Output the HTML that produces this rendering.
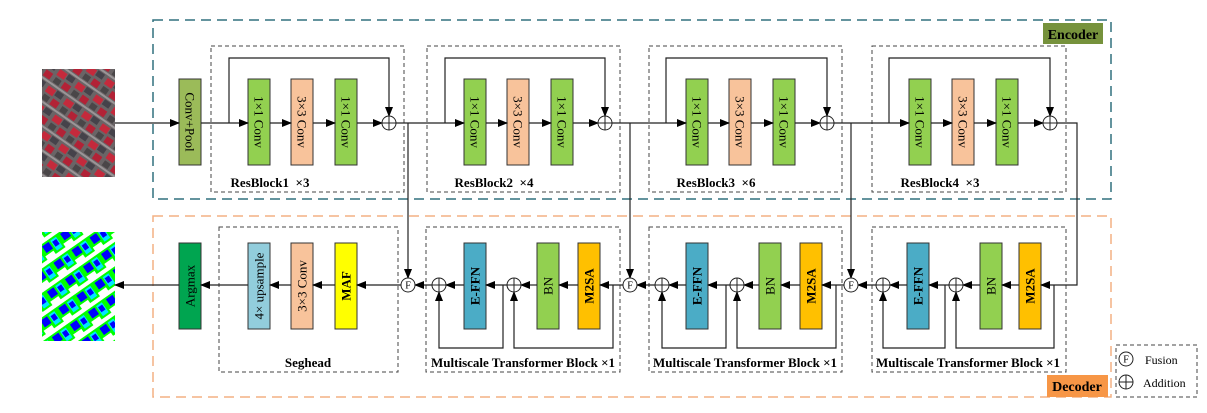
<!DOCTYPE html>
<html><head><meta charset="utf-8"><style>
html,body{margin:0;padding:0;background:#fff;}
svg{display:block;font-family:"Liberation Serif",serif;}
</style></head><body>
<svg width="1207" height="413" viewBox="0 0 1207 413" xmlns="http://www.w3.org/2000/svg">
<defs>
<marker id="a" markerWidth="10" markerHeight="8" refX="9" refY="4" orient="auto" markerUnits="userSpaceOnUse"><path d="M0,0 L10,4 L0,8 z" fill="#000"/></marker>
<pattern id="pin" width="22" height="20" patternUnits="userSpaceOnUse" patternTransform="rotate(35)"><rect width="22" height="20" fill="#6a6466"/><rect x="1" y="2" width="9" height="7" fill="#c42a3c"/><rect x="12" y="10" width="8" height="7" fill="#b22236"/><rect x="11" y="1" width="8" height="6" fill="#45424a"/><rect x="2" y="11" width="7" height="6" fill="#4a4648"/><rect x="0" y="18" width="22" height="2" fill="#9a9597"/></pattern>
<pattern id="pout" width="22" height="20" patternUnits="userSpaceOnUse" patternTransform="rotate(-35)"><rect width="22" height="20" fill="#00ff00"/><rect x="0" y="0" width="22" height="4" fill="#ffffff"/><rect x="3" y="6" width="8" height="8" fill="#0000ff"/><rect x="13" y="6" width="7" height="12" fill="#00e6ff"/><rect x="14" y="8" width="5" height="6" fill="#0000ff"/><rect x="0" y="16" width="10" height="4" fill="#ffffff"/></pattern>
</defs>

<!-- images -->
<rect x="42" y="69" width="73" height="108" fill="url(#pin)"/>
<rect x="42" y="232" width="73" height="109" fill="url(#pout)"/>

<!-- encoder / decoder outer -->
<rect x="153" y="20" width="958" height="179" fill="none" stroke="#31707f" stroke-width="1.5" stroke-dasharray="10,6"/>
<rect x="1043" y="23" width="60" height="21" fill="#76923c"/>
<text x="1073" y="39" text-anchor="middle" font-weight="bold" font-size="14">Encoder</text>
<rect x="153" y="216" width="958" height="181" fill="none" stroke="#f4b183" stroke-width="1.5" stroke-dasharray="10,6"/>
<rect x="1047" y="375" width="61" height="22" fill="#f79646"/>
<text x="1077" y="391" text-anchor="middle" font-weight="bold" font-size="14">Decoder</text>

<g fill="none" stroke="#444" stroke-width="1" stroke-dasharray="4,3">
<rect x="211" y="46" width="193" height="146"/><rect x="427" y="46" width="193" height="146"/>
<rect x="649" y="46" width="193" height="146"/><rect x="872" y="46" width="194" height="146"/>
<rect x="219" y="227" width="179" height="145"/><rect x="426" y="227" width="194" height="145"/>
<rect x="649" y="227" width="193" height="145"/><rect x="872" y="227" width="194" height="145"/>
<rect x="1116" y="345" width="81" height="52"/>
</g>

<!-- encoder blocks -->
<g stroke="#333" stroke-width="1">
<rect x="179" y="79" width="22" height="86" fill="#9bbb59"/>
<rect x="248" y="79" width="22" height="86" fill="#92d050"/><rect x="291" y="79" width="22" height="86" fill="#f8c39b"/><rect x="335" y="79" width="22" height="86" fill="#92d050"/>
<rect x="464" y="79" width="22" height="86" fill="#92d050"/><rect x="507" y="79" width="22" height="86" fill="#f8c39b"/><rect x="551" y="79" width="22" height="86" fill="#92d050"/>
<rect x="686" y="79" width="22" height="86" fill="#92d050"/><rect x="729" y="79" width="22" height="86" fill="#f8c39b"/><rect x="773" y="79" width="22" height="86" fill="#92d050"/>
<rect x="909" y="79" width="22" height="86" fill="#92d050"/><rect x="952" y="79" width="22" height="86" fill="#f8c39b"/><rect x="996" y="79" width="22" height="86" fill="#92d050"/>
<!-- decoder blocks -->
<rect x="179" y="243" width="22" height="86" fill="#00a550"/>
<rect x="248" y="243" width="22" height="86" fill="#92cddc"/><rect x="291" y="243" width="22" height="86" fill="#f8c39b"/><rect x="335" y="243" width="22" height="86" fill="#ffff00"/>
<rect x="464" y="243" width="22" height="86" fill="#4bacc6"/><rect x="537" y="243" width="22" height="86" fill="#92d050"/><rect x="578" y="243" width="22" height="86" fill="#ffc000"/>
<rect x="686" y="243" width="22" height="86" fill="#4bacc6"/><rect x="759" y="243" width="22" height="86" fill="#92d050"/><rect x="800" y="243" width="22" height="86" fill="#ffc000"/>
<rect x="907" y="243" width="22" height="86" fill="#4bacc6"/><rect x="980" y="243" width="22" height="86" fill="#92d050"/><rect x="1019" y="243" width="22" height="86" fill="#ffc000"/>
</g>

<!-- block labels -->
<g font-size="13" text-anchor="middle" dominant-baseline="central">
<text transform="translate(190,122) rotate(90)">Conv+Pool</text>
<text transform="translate(259,122) rotate(90)">1×1 Conv</text><text transform="translate(302,122) rotate(90)">3×3 Conv</text><text transform="translate(346,122) rotate(90)">1×1 Conv</text>
<text transform="translate(475,122) rotate(90)">1×1 Conv</text><text transform="translate(518,122) rotate(90)">3×3 Conv</text><text transform="translate(562,122) rotate(90)">1×1 Conv</text>
<text transform="translate(697,122) rotate(90)">1×1 Conv</text><text transform="translate(740,122) rotate(90)">3×3 Conv</text><text transform="translate(784,122) rotate(90)">1×1 Conv</text>
<text transform="translate(920,122) rotate(90)">1×1 Conv</text><text transform="translate(963,122) rotate(90)">3×3 Conv</text><text transform="translate(1007,122) rotate(90)">1×1 Conv</text>
<text transform="translate(190,286) rotate(-90)">Argmax</text>
<text transform="translate(259,286) rotate(-90)">4× upsample</text>
<text transform="translate(302,286) rotate(-90)">3×3 Conv</text>
<text transform="translate(346,286) rotate(-90)" font-weight="bold">MAF</text>
<text transform="translate(475,286) rotate(-90)" font-weight="bold">E-FFN</text><text transform="translate(548,286) rotate(-90)">BN</text><text transform="translate(589,286) rotate(-90)" font-weight="bold">M2SA</text>
<text transform="translate(697,286) rotate(-90)" font-weight="bold">E-FFN</text><text transform="translate(770,286) rotate(-90)">BN</text><text transform="translate(811,286) rotate(-90)" font-weight="bold">M2SA</text>
<text transform="translate(918,286) rotate(-90)" font-weight="bold">E-FFN</text><text transform="translate(991,286) rotate(-90)">BN</text><text transform="translate(1030,286) rotate(-90)" font-weight="bold">M2SA</text>
</g>
<g font-size="13" font-weight="bold" text-anchor="middle">
<text x="270" y="187">ResBlock1&#160;&#160;×3</text><text x="494" y="187">ResBlock2&#160;&#160;×4</text>
<text x="716" y="187">ResBlock3&#160;&#160;×6</text><text x="940" y="187">ResBlock4&#160;&#160;×3</text>
<text x="308" y="367">Seghead</text>
<text x="523" y="367">Multiscale Transformer Block ×1</text>
<text x="745" y="367">Multiscale Transformer Block ×1</text>
<text x="968" y="367">Multiscale Transformer Block ×1</text>
</g>

<!-- connectors -->
<g stroke="#222" stroke-width="1.2" fill="none">
<line x1="115" y1="123" x2="179" y2="123" marker-end="url(#a)"/>
<line x1="201" y1="123" x2="248" y2="123" marker-end="url(#a)"/>
<line x1="270" y1="123" x2="291" y2="123" marker-end="url(#a)"/><line x1="313" y1="123" x2="335" y2="123" marker-end="url(#a)"/><line x1="357" y1="123" x2="382" y2="123" marker-end="url(#a)"/>
<path d="M229,123 V58 H389 V116" marker-end="url(#a)"/>
<line x1="396" y1="123" x2="464" y2="123" marker-end="url(#a)"/>
<line x1="486" y1="123" x2="507" y2="123" marker-end="url(#a)"/><line x1="529" y1="123" x2="551" y2="123" marker-end="url(#a)"/><line x1="573" y1="123" x2="598" y2="123" marker-end="url(#a)"/>
<path d="M445,123 V58 H605 V116" marker-end="url(#a)"/>
<line x1="612" y1="123" x2="686" y2="123" marker-end="url(#a)"/>
<line x1="708" y1="123" x2="729" y2="123" marker-end="url(#a)"/><line x1="751" y1="123" x2="773" y2="123" marker-end="url(#a)"/><line x1="795" y1="123" x2="820" y2="123" marker-end="url(#a)"/>
<path d="M666,123 V58 H827 V116" marker-end="url(#a)"/>
<line x1="834" y1="123" x2="909" y2="123" marker-end="url(#a)"/>
<line x1="931" y1="123" x2="952" y2="123" marker-end="url(#a)"/><line x1="974" y1="123" x2="996" y2="123" marker-end="url(#a)"/><line x1="1018" y1="123" x2="1043" y2="123" marker-end="url(#a)"/>
<path d="M889,123 V58 H1050 V116" marker-end="url(#a)"/>
<path d="M408,123 V278" marker-end="url(#a)"/>
<path d="M630,123 V278" marker-end="url(#a)"/>
<path d="M851,123 V278" marker-end="url(#a)"/>
<path d="M1057,123 H1077 V285 H1041" marker-end="url(#a)"/>
<line x1="1019" y1="285" x2="1002" y2="285" marker-end="url(#a)"/>
<line x1="980" y1="285" x2="963" y2="285" marker-end="url(#a)"/>
<line x1="949" y1="285" x2="929" y2="285" marker-end="url(#a)"/>
<line x1="907" y1="285" x2="890" y2="285" marker-end="url(#a)"/>
<line x1="876" y1="285" x2="858" y2="285" marker-end="url(#a)"/>
<path d="M1054,285 V348 H956 V292" marker-end="url(#a)"/>
<path d="M945,285 V348 H883 V292" marker-end="url(#a)"/>
<line x1="844" y1="285" x2="822" y2="285" marker-end="url(#a)"/>
<line x1="800" y1="285" x2="781" y2="285" marker-end="url(#a)"/>
<line x1="759" y1="285" x2="744" y2="285" marker-end="url(#a)"/>
<line x1="730" y1="285" x2="708" y2="285" marker-end="url(#a)"/>
<line x1="686" y1="285" x2="669" y2="285" marker-end="url(#a)"/>
<line x1="655" y1="285" x2="637" y2="285" marker-end="url(#a)"/>
<path d="M836,285 V348 H737 V292" marker-end="url(#a)"/>
<path d="M726,285 V348 H662 V292" marker-end="url(#a)"/>
<line x1="623" y1="285" x2="600" y2="285" marker-end="url(#a)"/>
<line x1="578" y1="285" x2="559" y2="285" marker-end="url(#a)"/>
<line x1="537" y1="285" x2="521" y2="285" marker-end="url(#a)"/>
<line x1="507" y1="285" x2="486" y2="285" marker-end="url(#a)"/>
<line x1="464" y1="285" x2="446" y2="285" marker-end="url(#a)"/>
<line x1="432" y1="285" x2="415" y2="285" marker-end="url(#a)"/>
<path d="M613,285 V348 H514 V292" marker-end="url(#a)"/>
<path d="M503,285 V348 H439 V292" marker-end="url(#a)"/>
<line x1="401" y1="285" x2="357" y2="285" marker-end="url(#a)"/>
<line x1="335" y1="285" x2="313" y2="285" marker-end="url(#a)"/>
<line x1="291" y1="285" x2="270" y2="285" marker-end="url(#a)"/>
<line x1="248" y1="285" x2="201" y2="285" marker-end="url(#a)"/>
<line x1="179" y1="285" x2="115" y2="285" marker-end="url(#a)"/>
</g>

<!-- circles -->
<g stroke="#222" stroke-width="1" fill="#fff">
<circle cx="389" cy="123" r="7"/><path d="M382,123H396M389,116V130"/>
<circle cx="605" cy="123" r="7"/><path d="M598,123H612M605,116V130"/>
<circle cx="827" cy="123" r="7"/><path d="M820,123H834M827,116V130"/>
<circle cx="1050" cy="123" r="7"/><path d="M1043,123H1057M1050,116V130"/>
<circle cx="439" cy="285" r="7"/><path d="M432,285H446M439,278V292"/>
<circle cx="514" cy="285" r="7"/><path d="M507,285H521M514,278V292"/>
<circle cx="662" cy="285" r="7"/><path d="M655,285H669M662,278V292"/>
<circle cx="737" cy="285" r="7"/><path d="M730,285H744M737,278V292"/>
<circle cx="883" cy="285" r="7"/><path d="M876,285H890M883,278V292"/>
<circle cx="956" cy="285" r="7"/><path d="M949,285H963M956,278V292"/>
<circle cx="408" cy="285" r="7"/><circle cx="630" cy="285" r="7"/><circle cx="851" cy="285" r="7"/>
<circle cx="1126" cy="359" r="7"/>
<circle cx="1126" cy="382" r="7"/><path d="M1119,382H1133M1126,375V389"/>
</g>
<g font-size="10" text-anchor="middle" dominant-baseline="central">
<text x="408" y="286">F</text><text x="630" y="286">F</text><text x="851" y="286">F</text><text x="1126" y="360">F</text>
</g>
<text x="1145" y="364" font-size="12">Fusion</text>
<text x="1143" y="387" font-size="12">Addition</text>
</svg>
</body></html>
